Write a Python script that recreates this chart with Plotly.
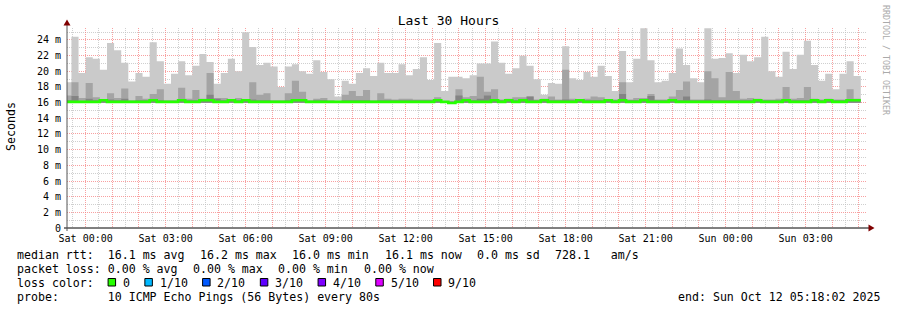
import plotly.graph_objects as go
import pandas as pd

# ---------------- data ----------------
bin_start = "2025-10-10 23:12:00"   # first 16-minute consolidation bin
bin_minutes = 16
t_end = "2025-10-12 05:18:02"
span_hours = 30

rtt_max = [18.6, 24.4, 19.8, 21.8, 21.6, 20.2, 23.6, 22.7, 21.1, 18.7,
           19.8, 19.3, 23.7, 21.3, 18.4, 19.7, 21.3, 19.5, 20.7, 22.2,
           21.2, 18.4, 19.8, 21.6, 20.0, 25.0, 23.1, 20.8, 21.1, 20.6,
           18.0, 20.6, 20.9, 20.0, 19.7, 21.4, 19.9, 19.0, 16.8, 18.8,
           18.4, 19.8, 20.4, 19.4, 21.1, 19.8, 19.8, 20.9, 19.5, 20.3,
           21.8, 18.9, 23.6, 17.5, 19.3, 19.3, 19.1, 19.5, 21.0, 21.0,
           23.8, 21.1, 19.7, 20.4, 22.0, 20.7, 19.0, 17.0, 18.5, 18.4,
           23.2, 19.1, 18.9, 19.9, 19.3, 20.7, 19.4, 17.5, 22.6, 18.6,
           21.6, 25.5, 21.4, 18.6, 18.8, 19.8, 22.9, 20.8, 19.1, 18.6,
           25.5, 21.6, 21.7, 22.3, 19.8, 22.1, 21.3, 21.8, 24.4, 20.0,
           19.3, 22.5, 20.3, 22.1, 23.9, 20.8, 18.8, 19.7, 17.7, 19.7,
           21.3, 19.4]

rtt_p9 = [16.9, 18.6, 16.6, 18.5, 16.7, 16.4, 17.2, 16.6, 17.8, 16.3,
          16.85, 16.5, 17.1, 17.7, 16.3, 16.3, 17.9, 16.5, 17.6, 16.5,
          19.8, 16.6, 16.6, 16.3, 16.6, 16.3, 18.6, 17.0, 17.2, 16.3,
          16.3, 17.2, 18.8, 17.4, 16.3, 16.5, 16.6, 16.3, 16.2, 17.0,
          17.5, 16.85, 17.6, 16.3, 17.2, 16.5, 16.4, 16.5, 16.5, 16.4,
          16.4, 16.4, 16.7, 16.2, 16.2, 17.7, 16.7, 16.85, 19.3, 17.4,
          17.7, 16.4, 16.5, 16.7, 16.7, 16.8, 16.4, 16.5, 16.8, 16.4,
          20.2, 16.5, 16.4, 16.5, 16.8, 16.7, 16.4, 16.4, 18.6, 16.4,
          16.6, 16.6, 17.1, 16.4, 16.4, 16.8, 17.6, 18.7, 16.4, 16.4,
          20.0, 19.1, 16.7, 19.9, 17.5, 16.5, 16.6, 16.5, 16.4, 16.4,
          16.5, 18.0, 16.5, 16.6, 18.0, 16.5, 16.4, 16.5, 16.4, 16.4,
          17.7, 16.5]

rtt_p8 = [16.3, 16.85, 16.2, 16.5, 16.3, 16.3, 16.4, 16.3, 16.5, 16.2,
          16.3, 16.3, 16.3, 16.3, 16.2, 16.2, 16.4, 16.3, 16.3, 16.3,
          17.0, 16.5, 16.3, 16.2, 16.3, 16.2, 16.4, 16.3, 16.3, 16.2,
          16.2, 16.3, 16.3, 16.3, 16.2, 16.3, 16.3, 16.2, 16.2, 16.3,
          16.3, 16.3, 16.3, 16.2, 16.3, 16.3, 16.3, 16.3, 16.3, 16.3,
          16.3, 16.3, 16.4, 16.2, 16.1, 16.9, 16.3, 16.3, 16.5, 16.9,
          16.4, 16.3, 16.3, 16.3, 16.3, 16.8, 16.3, 16.3, 16.3, 16.3,
          16.4, 16.3, 16.3, 16.3, 16.3, 16.3, 16.3, 16.3, 17.1, 16.3,
          16.3, 16.3, 16.85, 16.3, 16.3, 16.3, 16.3, 16.8, 16.3, 16.3,
          16.4, 16.3, 16.3, 16.3, 16.3, 16.3, 16.3, 16.3, 16.3, 16.3,
          16.3, 16.3, 16.3, 16.3, 16.3, 16.3, 16.3, 16.3, 16.3, 16.3,
          16.3, 16.3]

rtt_min = [16.0, 16.0, 16.0, 16.0, 16.0, 16.0, 16.0, 16.0, 16.0, 16.0,
           16.0, 16.0, 16.0, 16.0, 16.0, 16.0, 16.0, 16.0, 16.0, 16.0,
           16.0, 16.0, 16.0, 16.0, 16.0, 16.0, 16.0, 16.0, 16.0, 16.0,
           16.0, 16.0, 16.0, 16.0, 16.0, 16.0, 16.0, 16.0, 16.0, 16.0,
           16.0, 16.0, 16.0, 16.0, 16.0, 16.0, 16.0, 16.0, 16.0, 16.0,
           16.0, 16.0, 16.0, 16.0, 15.9, 16.0, 16.0, 16.0, 16.0, 16.0,
           16.0, 16.0, 16.0, 16.0, 16.0, 16.0, 16.0, 16.0, 16.0, 16.0,
           16.0, 16.0, 16.0, 16.0, 16.0, 16.0, 16.0, 16.0, 16.0, 16.0,
           16.0, 16.0, 16.0, 16.0, 16.0, 16.0, 16.0, 16.0, 16.0, 16.0,
           16.0, 16.0, 16.0, 16.0, 16.0, 16.0, 16.0, 16.0, 16.0, 16.0,
           16.0, 16.0, 16.0, 16.0, 16.0, 16.0, 16.0, 16.0, 16.0, 16.0,
           16.0, 16.0]

rtt_median = [16.1, 16.1, 16.1, 16.1, 16.1, 16.3, 16.1, 16.1, 16.1, 16.1,
              16.1, 16.1, 16.3, 16.1, 16.1, 16.1, 16.3, 16.1, 16.1, 16.3,
              16.3, 16.1, 16.1, 16.3, 16.1, 16.3, 16.1, 16.1, 16.1, 16.1,
              16.1, 16.1, 16.3, 16.3, 16.1, 16.1, 16.1, 16.1, 16.1, 16.1,
              16.1, 16.1, 16.1, 16.1, 16.1, 16.1, 16.1, 16.1, 16.1, 16.1,
              16.1, 16.1, 16.3, 16.1, 15.95, 16.1, 16.3, 16.1, 16.1, 16.1,
              16.3, 16.1, 16.3, 16.1, 16.3, 16.1, 16.1, 16.3, 16.1, 16.1,
              16.1, 16.1, 16.3, 16.1, 16.1, 16.1, 16.3, 16.1, 16.3, 16.1,
              16.1, 16.3, 16.1, 16.1, 16.1, 16.3, 16.1, 16.1, 16.1, 16.1,
              16.1, 16.1, 16.1, 16.1, 16.1, 16.1, 16.1, 16.3, 16.1, 16.1,
              16.1, 16.3, 16.1, 16.1, 16.1, 16.3, 16.1, 16.3, 16.1, 16.1,
              16.3, 16.3]

y_tick_vals = [0, 2, 4, 6, 8, 10, 12, 14, 16, 18, 20, 22, 24]
y_tick_text = ["0", "2 m", "4 m", "6 m", "8 m", "10 m", "12 m", "14 m",
               "16 m", "18 m", "20 m", "22 m", "24 m"]
y_top = 25.53

legend_rtt = ["median rtt:  16.1 ms avg", "16.2 ms max", "16.0 ms min",
              "16.1 ms now", "0.0 ms sd", "728.1   am/s"]
legend_loss = ["packet loss: 0.00 % avg", "0.00 % max", "0.00 % min", "0.00 % now"]
legend_probe = "probe:       10 ICMP Echo Pings (56 Bytes) every 80s"
legend_end = "end: Sun Oct 12 05:18:02 2025"
loss_labels = ["0", "1/10", "2/10", "3/10", "4/10", "5/10", "9/10"]
loss_colors = ["#26ff00", "#00b8ff", "#0059ff", "#5e00ff", "#7e00ff", "#dd00ff", "#ff0000"]
smoke_colors = ["#cacaca", "#a4a4a4", "#848484"]

# ---------------- geometry ----------------
W, H = 897, 310
PL, PR, PT, PB = 67, 867, 28, 228
MONO = "DejaVu Sans Mono"
FS = 11.6
CW = 0.602 * FS      # monospace advance
GAP = 15.5           # rrdtool gap between legend items


def px(x):
    return (x - PL) / (PR - PL)


def py(y):
    return (PB - y) / (PB - PT)


t_end_ts = pd.Timestamp(t_end)
t_start_ts = t_end_ts - pd.Timedelta(hours=span_hours)
step = pd.Timedelta(minutes=bin_minutes)
starts = [pd.Timestamp(bin_start) + i * step for i in range(len(rtt_max))]

fig = go.Figure()

# smoke bands as step polygons (one closed shape per band)
for top, col in zip([rtt_max, rtt_p9, rtt_p8], smoke_colors):
    xs, ys = [], []
    for s, v in zip(starts, top):
        xs += [s, s + step]
        ys += [v, v]
    for s, v in zip(reversed(starts), reversed(rtt_min)):
        xs += [s + step, s]
        ys += [v, v]
    fig.add_trace(go.Scatter(x=xs, y=ys, mode="lines", fill="toself", fillcolor=col,
                             line=dict(width=0), hoverinfo="skip", showlegend=False))

fig.add_trace(go.Scatter(
    x=starts + [starts[-1] + step], y=rtt_median + [rtt_median[-1]],
    mode="lines", line=dict(color=loss_colors[0], width=2.6, shape="hv"),
    hoverinfo="skip", showlegend=False))

# ticks / grid
hour0 = pd.Timestamp("2025-10-11 00:00:00")
hours = [hour0 + pd.Timedelta(hours=h) for h in range(0, 30)]
hours = [h for h in hours if t_start_ts <= h <= t_end_ts]
x_text = [h.strftime("%a %H:%M") if h.hour % 3 == 0 else "" for h in hours]
half_hours = [h + pd.Timedelta(minutes=30) for h in hours] + [hour0 - pd.Timedelta(minutes=30)]
half_hours = [h for h in half_hours if t_start_ts <= h <= t_end_ts]

MG = "rgba(245,128,128,0.75)"
GG = "rgba(191,191,191,0.75)"

fig.update_layout(
    width=W, height=H, margin=dict(l=PL, r=W - PR, t=PT, b=H - PB),
    paper_bgcolor="white", plot_bgcolor="white",
    title=dict(text="Last 30 Hours", x=0.5, xref="container", xanchor="center",
               y=1 - 20 / H, yref="container", yanchor="middle",
               font=dict(family=MONO, size=13, color="black")),
    font=dict(family=MONO, color="black"),
    xaxis=dict(type="date", range=[t_start_ts, t_end_ts], tickmode="array",
               tickvals=hours, ticktext=x_text, showgrid=True, gridcolor=MG,
               griddash="1px,1px", gridwidth=1, zeroline=False, showline=False,
               ticks="outside", ticklen=1, tickcolor="rgba(0,0,0,0)",
               layer="above traces",
               tickfont=dict(family=MONO, size=10, color="black"),
               minor=dict(tickmode="array", tickvals=half_hours, showgrid=True,
                          gridcolor=GG, griddash="1px,1px", gridwidth=1, ticks="")),
    yaxis=dict(range=[0, y_top], tickmode="array", tickvals=y_tick_vals,
               ticktext=y_tick_text, showgrid=True, gridcolor=MG,
               griddash="1px,1px", gridwidth=1, zeroline=False, showline=False,
               ticks="outside", ticklen=3, tickcolor="rgba(0,0,0,0)",
               layer="above traces",
               tickfont=dict(family=MONO, size=10, color="black"),
               minor=dict(tickmode="array", tickvals=[v + 1 for v in y_tick_vals],
                          showgrid=True, gridcolor=GG, griddash="1px,1px",
                          gridwidth=1, ticks="")),
)

shapes = []
# axes
shapes.append(dict(type="line", xref="paper", yref="paper", x0=px(64), x1=px(869),
                   y0=0, y1=0, line=dict(color="black", width=1)))
shapes.append(dict(type="line", xref="paper", yref="paper", x0=0, x1=0,
                   y0=py(231), y1=py(24), line=dict(color="#555555", width=1)))
# arrows
shapes.append(dict(type="path", xref="paper", yref="paper",
                   path=f"M {px(63.5)} {py(25.5)} L {px(70.5)} {py(25.5)} L {px(67)} {py(19.5)} Z",
                   fillcolor="#800000", line=dict(width=0)))
shapes.append(dict(type="path", xref="paper", yref="paper",
                   path=f"M {px(868.5)} {py(224.5)} L {px(868.5)} {py(231.5)} L {px(874.5)} {py(228)} Z",
                   fillcolor="#800000", line=dict(width=0)))

ann = []


def text(x, y, s, size=FS, anchor="left", color="black", angle=0):
    ann.append(dict(xref="paper", yref="paper", x=px(x), y=py(y), text=s.replace(" ", "\u00a0"),
                    showarrow=False, xanchor=anchor, yanchor="middle", textangle=angle,
                    borderpad=0, font=dict(family=MONO, size=size, color=color)))


def legend_line(items, y, x0):
    x = x0
    for it in items:
        text(x, y, it)
        x += len(it) * CW + GAP


text(11, 126, "Seconds", angle=-90, anchor="center")
text(886, 60, "RRDTOOL / TOBI OETIKER", size=8.3, anchor="center", color="#aaaaaa", angle=90)

LX = 15.8
legend_line(legend_rtt, 255, LX)
legend_line(legend_loss, 268.5, LX)
text(LX, 282.5, "loss color:")
text(LX, 296.5, legend_probe)
text(881, 296.5, legend_end, anchor="right")

bx = LX + 13 * CW + 1.5
for lab, col in zip(loss_labels, loss_colors):
    shapes.append(dict(type="rect", xref="paper", yref="paper", x0=px(bx), x1=px(bx + 7.5),
                       y0=py(286), y1=py(278.5), fillcolor=col, line=dict(color="black", width=1)))
    text(bx + 13.8, 282.5, lab)
    bx += 13.8 + len(lab) * CW + GAP + 0.5

fig.update_layout(shapes=shapes, annotations=ann)
fig.write_html("out.html")
